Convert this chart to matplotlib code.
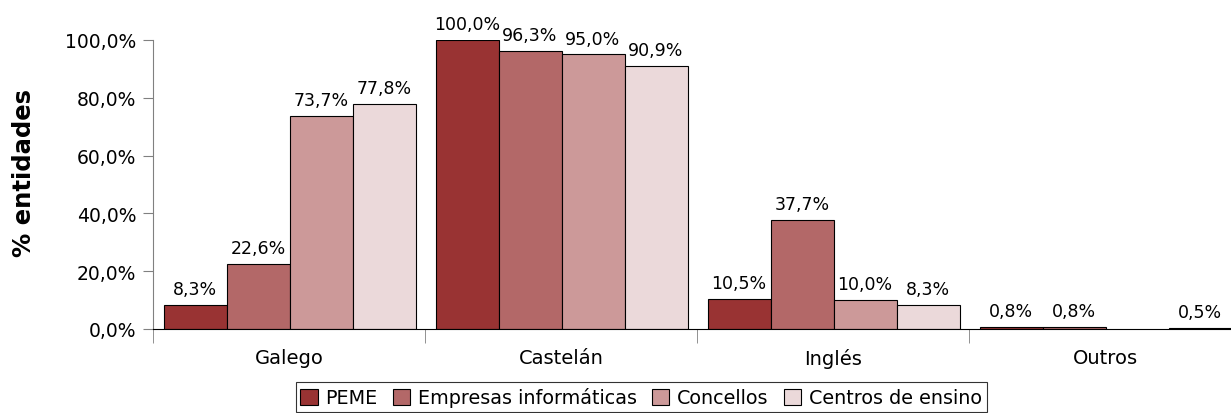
import numpy as np
import matplotlib.pyplot as plt

categories = ["Galego", "Castelán", "Inglés", "Outros"]
series = ["PEME", "Empresas informáticas", "Concellos", "Centros de ensino"]
peme = [8.3, 100.0, 10.5, 0.8]
empresas = [22.6, 96.3, 37.7, 0.8]
concellos = [73.7, 95.0, 10.0, np.nan]
centros = [77.8, 90.9, 8.3, 0.5]
yticks = [0, 20, 40, 60, 80, 100]

colors = ["#993333", "#b36868", "#cc9999", "#ebd9da"]
values = [peme, empresas, concellos, centros]

plt.rcParams['font.family'] = ['DejaVu Sans']

fig = plt.figure(figsize=(12.31, 4.14), dpi=100)
ax = fig.add_axes([153 / 1231, 1 - 330 / 414, 1088 / 1231, 289 / 414])

x = np.arange(len(categories))
w = 63 / 272
offsets = (np.arange(4) - 1.5) * w + 0.5 * (10 - 9) / 272

for i, (name, vals) in enumerate(zip(series, values)):
    bars = ax.bar(x + offsets[i], vals, width=w, color=colors[i],
                  edgecolor="black", linewidth=0.8, label=name)
    for b, v in zip(bars, vals):
        if np.isnan(v):
            continue
        ax.annotate(f"{v:.1f}%".replace(".", ","),
                    (b.get_x() + b.get_width() / 2, v),
                    xytext=(0, 5), textcoords="offset points",
                    ha="center", va="bottom", fontsize=12.5)

ax.set_xlim(-0.5, 3.5)
ax.set_ylim(0, 100)
ax.set_yticks(yticks)
ax.set_yticklabels([f"{t:.1f}%".replace(".", ",") for t in yticks], fontsize=13.5)
ax.set_xticks(x)
ax.set_xticklabels(categories, fontsize=14)
ax.set_xticks(np.arange(len(categories) + 1) - 0.5, minor=True)
ax.tick_params(axis="x", which="major", length=0, pad=14)
ax.tick_params(axis="x", which="minor", length=10, color="#808080", direction="out")
ax.tick_params(axis="y", length=7, color="#808080", direction="out", pad=5)

for s in ["top", "right"]:
    ax.spines[s].set_visible(False)
ax.spines["left"].set_color("#808080")
ax.spines["bottom"].set_color("black")

fig.text(24 / 1231, 1 - 173 / 414, "% entidades", rotation=90, ha="center", va="center",
         fontsize=17.5, fontweight="bold")

leg = ax.legend(loc="lower center", bbox_to_anchor=(641 / 1231, 0.0), bbox_transform=fig.transFigure,
                ncol=4, fontsize=13.8, frameon=True, fancybox=False, edgecolor="black",
                handlelength=0.9, handleheight=0.9, handletextpad=0.4, columnspacing=0.8,
                borderpad=0.25, borderaxespad=0.05)
leg.get_frame().set_linewidth(0.8)

fig.savefig("out.png", dpi=100)
